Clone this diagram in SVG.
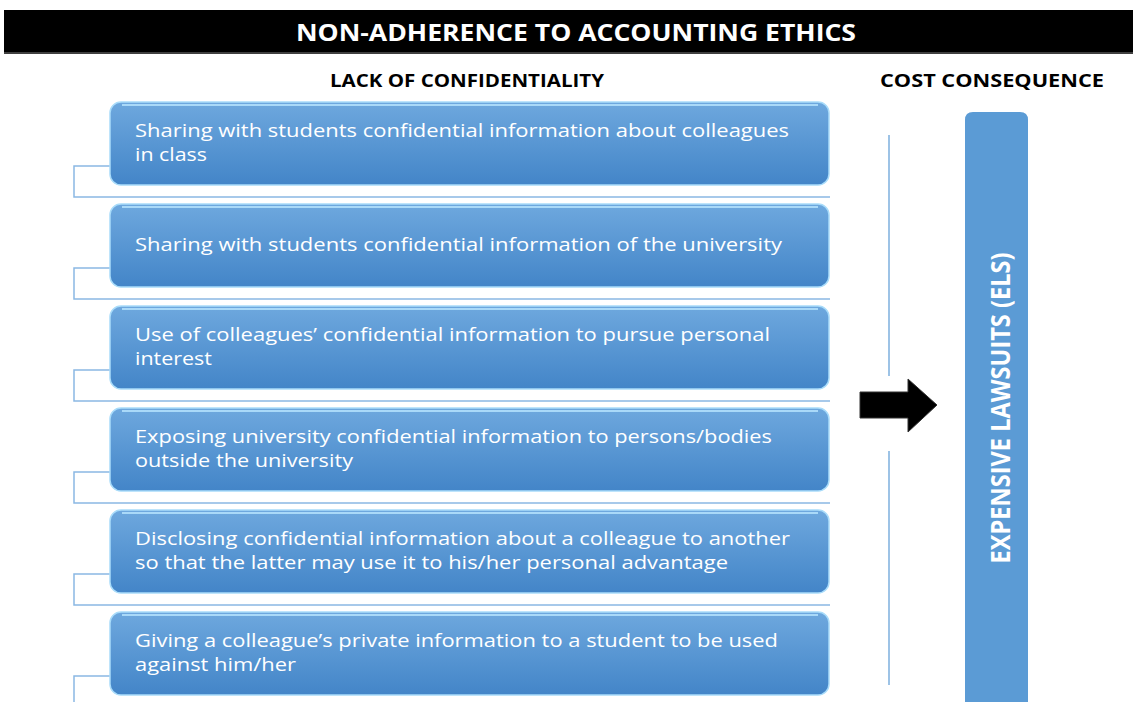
<svg xmlns="http://www.w3.org/2000/svg" width="1133" height="702" viewBox="0 0 1133 702">
<defs>
<linearGradient id="bg" x1="0" y1="0" x2="0" y2="1">
<stop offset="0" stop-color="#6ea8de"/>
<stop offset="1" stop-color="#4385c8"/>
</linearGradient>
<style>
.box{fill:url(#bg);stroke:#a9dcfa;stroke-width:1.5}
.hl{stroke:#b9e6ff;stroke-width:2;fill:none;opacity:0.8}
.bt{font-family:"Open Sans","Liberation Sans",sans-serif;font-size:19px;fill:#ffffff}
.conn{fill:none;stroke:#8bb8e4;stroke-width:1.5}
.hd{font-family:"Open Sans","Liberation Sans",sans-serif;font-weight:bold;fill:#000000;font-size:17px}
.vl{stroke:#9dc3e6;stroke-width:2}
</style>
</defs>
<rect x="4" y="10" width="1129" height="43" fill="#000000"/>
<line x1="4" y1="53" x2="1133" y2="53" stroke="#404040" stroke-width="2"/>
<text x="576" y="41" text-anchor="middle" font-family="Open Sans, Liberation Sans, sans-serif" font-weight="bold" font-size="23" fill="#ffffff" textLength="560" lengthAdjust="spacingAndGlyphs">NON-ADHERENCE TO ACCOUNTING ETHICS</text>
<text class="hd" x="330" y="87" textLength="274" lengthAdjust="spacingAndGlyphs">LACK OF CONFIDENTIALITY</text>
<text class="hd" x="880" y="87" textLength="224" lengthAdjust="spacingAndGlyphs">COST CONSEQUENCE</text>

<g id="connectors">
<path class="conn" d="M110 166 H74 V197 H830"/>
<path class="conn" d="M110 268 H74 V299 H830"/>
<path class="conn" d="M110 370 H74 V401 H830"/>
<path class="conn" d="M110 472 H74 V503 H830"/>
<path class="conn" d="M110 574 H74 V605 H830"/>
<path class="conn" d="M110 676 H74 V702"/>
<line class="vl" x1="889" y1="135" x2="889" y2="376"/>
<line class="vl" x1="889" y1="451" x2="889" y2="685"/>
<path d="M860 392 H908 V379 L937 405 L908 432 V418 H860 Z" fill="#000000" stroke="#333333" stroke-width="1"/>
</g>

<g id="n1">
<rect class="box" x="110" y="102" width="719" height="83" rx="11"/>
<line class="hl" x1="122" y1="105" x2="818" y2="105"/>
<text class="bt" x="135" y="137" textLength="654" lengthAdjust="spacingAndGlyphs">Sharing with students confidential information about colleagues</text>
<text class="bt" x="135" y="161" textLength="72" lengthAdjust="spacingAndGlyphs">in class</text>
</g>
<g id="n2">
<rect class="box" x="110" y="204" width="719" height="83" rx="11"/>
<line class="hl" x1="122" y1="207" x2="818" y2="207"/>
<text class="bt" x="135" y="251" textLength="647" lengthAdjust="spacingAndGlyphs">Sharing with students confidential information of the university</text>
</g>
<g id="n3">
<rect class="box" x="110" y="306" width="719" height="83" rx="11"/>
<line class="hl" x1="122" y1="309" x2="818" y2="309"/>
<text class="bt" x="135" y="341" textLength="635" lengthAdjust="spacingAndGlyphs">Use of colleagues’ confidential information to pursue personal</text>
<text class="bt" x="135" y="365" textLength="77" lengthAdjust="spacingAndGlyphs">interest</text>
</g>
<g id="n4">
<rect class="box" x="110" y="408" width="719" height="83" rx="11"/>
<line class="hl" x1="122" y1="411" x2="818" y2="411"/>
<text class="bt" x="135" y="443" textLength="637" lengthAdjust="spacingAndGlyphs">Exposing university confidential information to persons/bodies</text>
<text class="bt" x="135" y="467" textLength="218" lengthAdjust="spacingAndGlyphs">outside the university</text>
</g>
<g id="n5">
<rect class="box" x="110" y="510" width="719" height="83" rx="11"/>
<line class="hl" x1="122" y1="513" x2="818" y2="513"/>
<text class="bt" x="135" y="545" textLength="655" lengthAdjust="spacingAndGlyphs">Disclosing confidential information about a colleague to another</text>
<text class="bt" x="135" y="569" textLength="593" lengthAdjust="spacingAndGlyphs">so that the latter may use it to his/her personal advantage</text>
</g>
<g id="n6">
<rect class="box" x="110" y="612" width="719" height="83" rx="11"/>
<line class="hl" x1="122" y1="615" x2="818" y2="615"/>
<text class="bt" x="135" y="647" textLength="643" lengthAdjust="spacingAndGlyphs">Giving a colleague’s private information to a student to be used</text>
<text class="bt" x="135" y="671" textLength="161" lengthAdjust="spacingAndGlyphs">against him/her</text>
</g>

<g id="els">
<path d="M965 702 V120 Q965 112 973 112 H1020 Q1028 112 1028 120 V702 Z" fill="#5b9bd5"/>
<text transform="translate(1010 408) rotate(-90)" text-anchor="middle" font-family="Open Sans, Liberation Sans, sans-serif" font-weight="bold" font-size="27" fill="#ffffff" textLength="311" lengthAdjust="spacingAndGlyphs">EXPENSIVE LAWSUITS (ELS)</text>
</g>
</svg>
